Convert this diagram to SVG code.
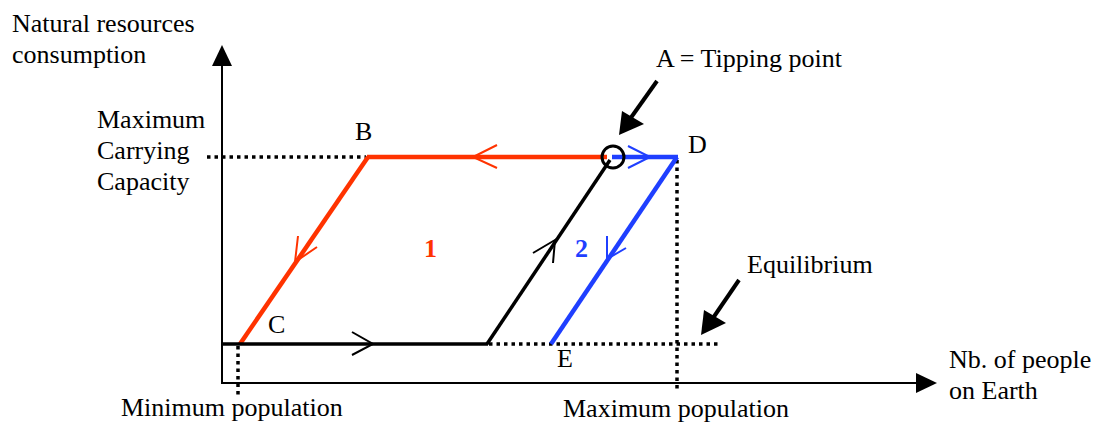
<svg xmlns="http://www.w3.org/2000/svg" width="1099" height="423" viewBox="0 0 1099 423">
<style>
text{font-family:"Liberation Serif","Times New Roman",serif;font-size:26px;fill:#000}
.num{font-weight:bold}
.dot{stroke:#000;stroke-width:3.5;stroke-dasharray:3.5,4;fill:none}
.red{stroke:#ff3300;fill:none}
.blue{stroke:#1f3fff;fill:none}
.blk{stroke:#000;fill:none}
</style>
<rect width="1099" height="423" fill="#fff"/>
<g id="axes">
<line x1="222" y1="383" x2="222" y2="62" stroke="#000" stroke-width="2"/>
<polygon points="222,45 212,66 232,66" fill="#000"/>
<line x1="221" y1="383" x2="918" y2="383" stroke="#000" stroke-width="2"/>
<polygon points="937,383 916,373 916,393" fill="#000"/>
</g>
<g id="connectors">
<line class="dot" x1="207" y1="157" x2="366" y2="157"/>
<line class="dot" x1="677" y1="160" x2="677" y2="392"/>
<line class="dot" x1="238" y1="346" x2="238" y2="396"/>
<line class="dot" x1="489" y1="344" x2="720" y2="344"/>
<line class="red" stroke-width="4.5" x1="367" y1="157" x2="607" y2="157"/>
<line class="red" stroke-width="4.5" x1="368" y1="157" x2="240" y2="344"/>
<polyline class="red" stroke-width="2" points="497,145 473,157 497,168"/>
<polyline class="red" stroke-width="2" points="298,236 295,262 317,247"/>
<line class="blk" stroke-width="3.5" x1="221" y1="344" x2="488" y2="344"/>
<line class="blk" stroke-width="3.5" x1="487" y1="344" x2="610" y2="160"/>
<polyline class="blk" stroke-width="2" points="352,332 373,344 352,355"/>
<polyline class="blk" stroke-width="2" points="533,253 555,240 553,263"/>
<line class="blue" stroke-width="4.5" x1="612" y1="157" x2="678" y2="157"/>
<line class="blue" stroke-width="4.5" x1="677" y1="157" x2="551" y2="344"/>
<polyline class="blue" stroke-width="2" points="628,146 650,157 628,168"/>
<polyline class="blue" stroke-width="2" points="607,236 607,259 626,248"/>
<line x1="657" y1="81" x2="630" y2="119" stroke="#000" stroke-width="4"/>
<polygon points="619,135 622,111 644,124" fill="#000"/>
<line x1="739" y1="280" x2="713" y2="318" stroke="#000" stroke-width="4"/>
<polygon points="701,335 704,310 726,323" fill="#000"/>
</g>
<g id="tipping-circle">
<circle cx="613" cy="157" r="11" fill="none" stroke="#000" stroke-width="3"/>
</g>
<g id="labels">
<text x="12" y="32">Natural resources</text>
<text x="12" y="63">consumption</text>
<text x="97" y="128">Maximum</text>
<text x="97" y="159">Carrying</text>
<text x="97" y="190">Capacity</text>
<text x="355" y="140">B</text>
<text x="268" y="333">C</text>
<text x="688" y="153">D</text>
<text x="557" y="367">E</text>
<text x="656" y="67">A = Tipping point</text>
<text x="747" y="273">Equilibrium</text>
<text x="949" y="368">Nb. of people</text>
<text x="949" y="399">on Earth</text>
<text x="121" y="416">Minimum population</text>
<text x="563" y="417">Maximum population</text>
<text class="num" x="424" y="257" style="fill:#ff3300">1</text>
<text class="num" x="575" y="257" style="fill:#1f3fff">2</text>
</g>
</svg>
